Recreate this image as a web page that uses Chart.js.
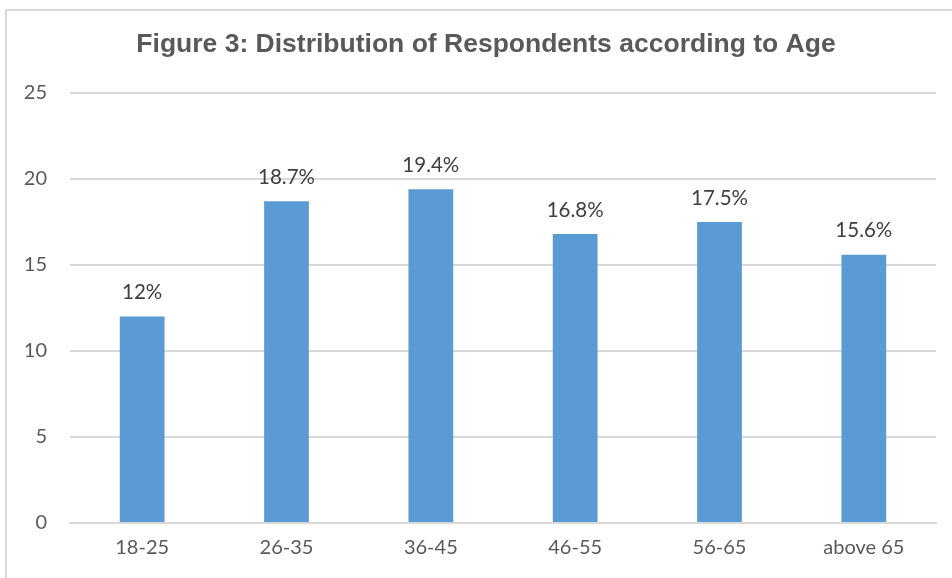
<!DOCTYPE html>
<html>
<head>
<meta charset="utf-8">
<script src="https://cdn.jsdelivr.net/npm/chart.js@4/dist/chart.umd.min.js"></script>
<style>
  html, body { margin: 0; padding: 0; background: #fff; }
  #wrap { position: relative; width: 952px; height: 578px; overflow: hidden; }
  #frame { position: absolute; left: 5px; top: 9px; width: 1000px; height: 600px;
           border-left: 2px solid #d9d9d9; border-top: 2px solid #d9d9d9; box-sizing: border-box; }
  canvas { position: absolute; left: 0; top: 0; }
</style>
</head>
<body>
<div id="wrap">
  <div id="frame"></div>
  <canvas id="c" width="952" height="578"></canvas>
</div>
<script>
const ageGroups = ['18-25', '26-35', '36-45', '46-55', '56-65', 'above 65'];
const shares = [12, 18.7, 19.4, 16.8, 17.5, 15.6];
const shareLabels = ['12%', '18.7%', '19.4%', '16.8%', '17.5%', '15.6%'];
const yTicks = [0, 5, 10, 15, 20, 25];
const chartTitle = 'Figure 3: Distribution of Respondents according to Age';

const tickFont = { family: 'Lato, "Open Sans", sans-serif', size: 20 };

// Title and the percentage written above each bar
const annotations = {
  id: 'annotations',
  afterDatasetsDraw(chart) {
    const ctx = chart.ctx;
    const meta = chart.getDatasetMeta(0);
    ctx.save();
    ctx.font = 'bold 26.5px "Liberation Sans", Arial, sans-serif';
    ctx.fillStyle = '#595959';
    ctx.textAlign = 'center';
    ctx.textBaseline = 'middle';
    ctx.fillText(chartTitle, 486, 45);

    ctx.font = '20.5px Lato, "Open Sans", sans-serif';
    ctx.fillStyle = '#404040';
    meta.data.forEach((bar, i) => {
      ctx.fillText(shareLabels[i], bar.x, bar.y - 24);
    });
    ctx.restore();
  }
};

new Chart(document.getElementById('c'), {
  type: 'bar',
  data: {
    labels: ageGroups,
    datasets: [{
      data: shares,
      backgroundColor: '#5b9bd5',
      borderWidth: 0,
      categoryPercentage: 1,
      barPercentage: 0.31
    }]
  },
  options: {
    responsive: false,
    animation: false,
    layout: { padding: { left: 0, right: 16, top: 93, bottom: 0 } },
    plugins: {
      legend: { display: false },
      tooltip: { enabled: false },
      title: { display: false }
    },
    scales: {
      x: {
        grid: { display: false, drawTicks: false },
        border: { display: true, color: '#d9d9d9', width: 2 },
        ticks: { color: '#595959', font: tickFont, padding: 13 },
        afterFit(scale) { scale.height = 55; }
      },
      y: {
        min: 0,
        max: 25,
        afterBuildTicks(scale) { scale.ticks = yTicks.map(v => ({ value: v })); },
        grid: { color: '#d9d9d9', lineWidth: 2, drawTicks: false },
        border: { display: false },
        ticks: { color: '#595959', font: tickFont, padding: 23 },
        afterFit(scale) { scale.width = 70; }
      }
    }
  },
  plugins: [annotations]
});
</script>
</body>
</html>
